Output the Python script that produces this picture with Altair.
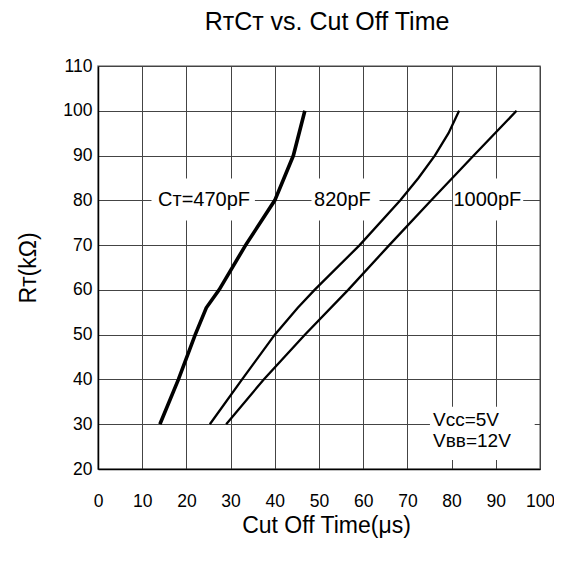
import altair as alt
import pandas as pd

# ---- data ----
series_names = ["470pF", "820pF", "1000pF"]
t_470 = [14, 18.2, 22, 24.5, 27.4, 33.4, 40, 44.2, 46.8]
r_470 = [30, 40, 50, 56, 60, 70, 80, 90, 100]
t_820 = [25.3, 32.6, 40, 45.2, 49, 59.2, 68.4, 72.5, 76.2, 79.3, 81.7]
r_820 = [30, 40, 50, 56, 60, 70, 80, 85, 90, 95, 100]
t_1000 = [29, 37.5, 46.8, 56.6, 65.9, 75.4, 85, 94.7]
r_1000 = [30, 40, 50, 60, 70, 80, 90, 100]

x_ticks = list(range(0, 101, 10))
y_ticks = list(range(20, 111, 10))

curve_labels = ["C\u1d1b=470pF", "820pF", "1000pF"]
curve_label_t = [24.0, 55.3, 88.1]
curve_label_r = [80, 80, 80]
box_t1 = [12.1, 48.3, 80.3]
box_t2 = [35.5, 63.7, 96.2]
box_r1 = [75.5, 75.5, 75.5]
box_r2 = [84.9, 84.9, 84.9]

cond_labels = ["V\u1d04\u1d04=5V", "V\u0299\u0299=12V"]
cond_t = [75.8, 75.8]
cond_r = [30.9, 26.2]
cond_box = {"t1": 75.1, "t2": 98.8, "r1": 22.0, "r2": 33.9}

FONT = "Liberation Sans"
XT = "Cut Off Time(\u03bcs)"
YT = "R\u1d1b(k\u03a9)"

def to_df(name, ts, rs):
    return pd.DataFrame({"series": name, "i": list(range(len(ts))), "t": ts, "r": rs})

df_thick = to_df("470pF", t_470, r_470)
df_thin = pd.concat([to_df("820pF", t_820, r_820), to_df("1000pF", t_1000, r_1000)], ignore_index=True)

boxes = pd.DataFrame({
    "t1": box_t1 + [cond_box["t1"]],
    "t2": box_t2 + [cond_box["t2"]],
    "r1": box_r1 + [cond_box["r1"]],
    "r2": box_r2 + [cond_box["r2"]],
})
lab_df = pd.DataFrame({"label": curve_labels, "t": curve_label_t, "r": curve_label_r})
cond_df = pd.DataFrame({"label": cond_labels, "t": cond_t, "r": cond_r})

xs = alt.Scale(domain=[0, 100], nice=False, zero=False)
ys = alt.Scale(domain=[20, 110], nice=False, zero=False)

x_axis = alt.Axis(values=x_ticks, labelPadding=23, titlePadding=5, labelFlush=False,
                  labelOverlap=False, titleX=228, titleAlign="center")
y_axis = alt.Axis(values=y_ticks, labelPadding=6, titlePadding=22, labelFlush=False,
                  labelOverlap=False)

rects = alt.Chart(boxes).mark_rect(fill="white").encode(
    x=alt.X("t1:Q", scale=xs, axis=x_axis, title=XT),
    x2="t2:Q",
    y=alt.Y("r1:Q", scale=ys, axis=y_axis, title=YT),
    y2="r2:Q",
)

thick = alt.Chart(df_thick).mark_line(color="black", strokeWidth=3.6).encode(
    x=alt.X("t:Q", scale=xs, title=XT),
    y=alt.Y("r:Q", scale=ys, title=YT),
    order="i:Q",
)

thin = alt.Chart(df_thin).mark_line(color="black", strokeWidth=2.3).encode(
    x=alt.X("t:Q", scale=xs, title=XT),
    y=alt.Y("r:Q", scale=ys, title=YT),
    detail="series:N",
    order="i:Q",
)

labels = alt.Chart(lab_df).mark_text(font=FONT, fontSize=20, color="black", align="center", baseline="middle").encode(
    x=alt.X("t:Q", scale=xs, title=XT),
    y=alt.Y("r:Q", scale=ys, title=YT),
    text="label:N",
)

conds = alt.Chart(cond_df).mark_text(font=FONT, fontSize=19, color="black", align="left", baseline="middle").encode(
    x=alt.X("t:Q", scale=xs, title=XT),
    y=alt.Y("r:Q", scale=ys, title=YT),
    text="label:N",
)

chart = alt.layer(rects, thin, thick, labels, conds).properties(
    width=442,
    height=403,
    autosize=alt.AutoSizeParams(type="none"),
    padding={"left": 90, "top": 58, "right": 14, "bottom": 82},
    title=alt.TitleParams(
        "R\u1d1bC\u1d1b vs. Cut Off Time",
        font=FONT, fontSize=25, fontWeight="normal", color="black",
        anchor="middle", offset=22, dx=8,
    ),
).configure_view(
    stroke="#888888", strokeWidth=1.5
).configure_axis(
    grid=True, gridColor="#444444", gridWidth=1, gridOpacity=1,
    domain=True, domainColor="black", domainWidth=1.5,
    ticks=False,
    labelFont=FONT, labelFontSize=17.5, labelColor="black",
    titleFont=FONT, titleFontSize=23, titleFontWeight="normal", titleColor="black",
)

chart.save("out.html", embed_options={"renderer": "svg", "actions": False})
